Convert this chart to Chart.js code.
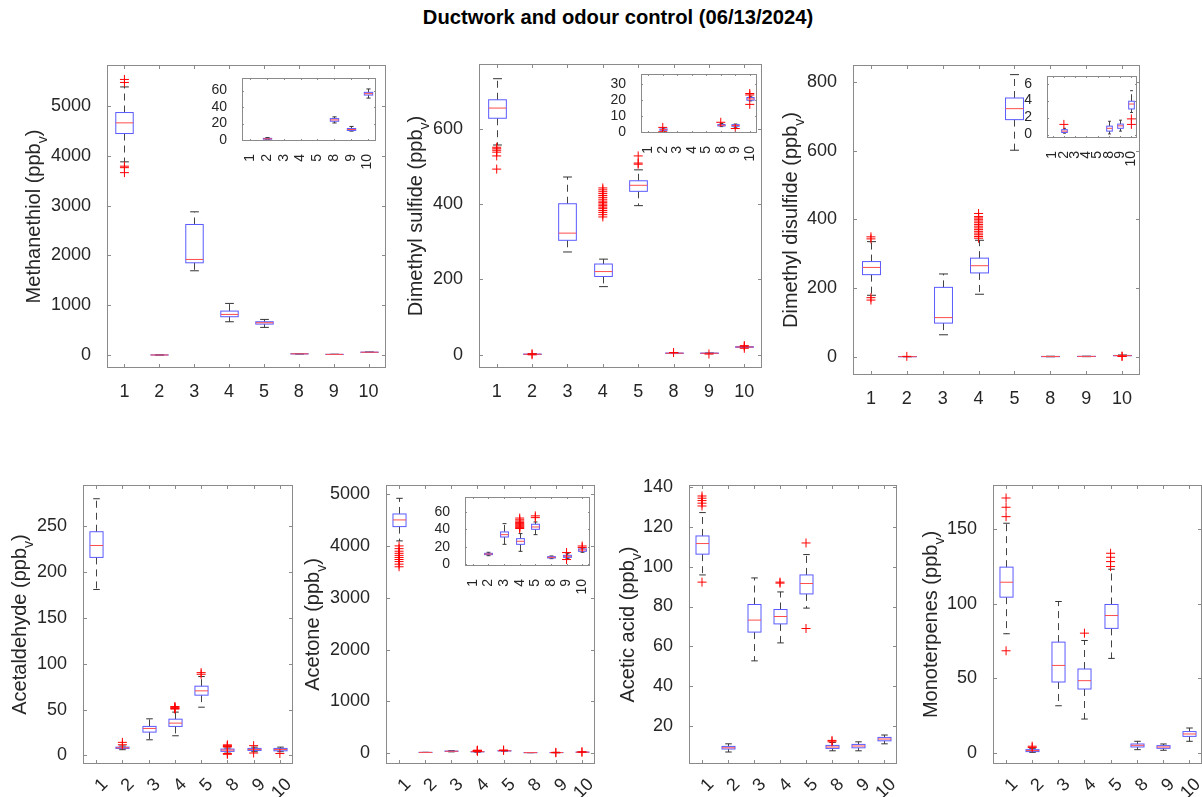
<!DOCTYPE html>
<html>
<head>
<meta charset="utf-8">
<script src="https://cdn.jsdelivr.net/npm/chart.js@4.4.1/dist/chart.umd.min.js"></script>
<style>
  html, body { margin: 0; padding: 0; background: #fff; }
  #page { position: relative; width: 1202px; height: 797px; overflow: hidden; background: #fff; }
  #title { position: absolute; top: 6px; left: 618px; transform: translateX(-50%); white-space: nowrap;
           font: bold 20.2px 'Liberation Sans', Arial, sans-serif; color: #000; }
</style>
</head>
<body>
<div id="page"><div id="title">Ductwork and odour control (06/13/2024)</div></div>
<script>
// categories (sampling points)
const cats = ['1', '2', '3', '4', '5', '8', '9', '10'];

// Methanethiol
const mtLow  = [3877, 0.5, 1691, 668, 555, 20.7, 10.8, 50.9];
const mtQ1   = [4445, 1.0, 1851, 769, 621, 22.8, 11.6, 54.6];
const mtMed  = [4659, 1.5, 1918, 815, 648, 24.4, 12.8, 56.3];
const mtQ3   = [4866, 2.0, 2620, 882, 668, 26.0, 14.0, 57.9];
const mtHigh = [5380, 3.0, 2874, 1036, 715, 28.1, 16.5, 62.0];
const mtOut  = [[5530, 5470, 3790, 3760, 3660], [], [], [], [], [], [], []];
const mtTicks = [0, 1000, 2000, 3000, 4000, 5000];
const mtInsetTicks = [0, 20, 40, 60];

// Dimethyl sulfide
const dmsLow  = [557, 0.5, 273, 181, 396, 3.4, 3.0, 19.5];
const dmsQ1   = [628, 1.1, 304, 208, 434, 3.8, 3.6, 19.9];
const dmsMed  = [655, 1.5, 323, 221, 450, 4.2, 4.1, 20.7];
const dmsQ3   = [677, 1.9, 401, 241, 462, 4.7, 4.6, 21.6];
const dmsHigh = [733, 2.5, 472, 254, 491, 5.3, 5.0, 22.4];
const dmsOut  = [[551, 547, 543, 538, 528, 493], [2.9, 0.2], [],
  [443, 438, 433, 428, 423, 418, 413, 408, 404, 400, 396, 392, 388, 383, 378, 372, 366],
  [528, 509, 506], [6.1], [2.2], [24.1, 23.2, 17.3]];
const dmsTicks = [0, 200, 400, 600];
const dmsInsetTicks = [0, 10, 20, 30];

// Dimethyl disulfide
const dmdsLow  = [179, 0.17, 64, 182, 601, 0.08, 0.41, 2.6];
const dmdsQ1   = [239, 0.25, 98, 244, 690, 0.41, 0.74, 3.02];
const dmdsMed  = [260, 0.41, 114, 265, 722, 0.74, 1.03, 3.6];
const dmdsQ3   = [277, 0.58, 202, 287, 753, 1.0, 1.24, 3.93];
const dmdsHigh = [335, 0.74, 241, 339, 821, 1.57, 1.7, 5.17];
const dmdsOut  = [[349, 343, 172, 165], [1.2], [],
  [345, 350, 355, 360, 365, 370, 375, 380, 385, 390, 395, 400, 404, 408, 417],
  [], [], [], [1.85, 1.2]];
const dmdsTicks = [0, 200, 400, 600, 800];
const dmdsInsetTicks = [0, 2, 4, 6];

// Acetaldehyde
const acdLow  = [181, 6.2, 17, 21.4, 52.6, 2.5, 4, 4];
const acdQ1   = [216, 7.6, 25.4, 31.6, 65.7, 4.4, 5.4, 5];
const acdMed  = [229, 8.3, 29.4, 35.2, 70.4, 5.8, 6.5, 6.5];
const acdQ3   = [244, 9.0, 31.6, 39.5, 75.5, 6.9, 7.6, 7.6];
const acdHigh = [280, 10.2, 39.9, 47.2, 86, 8, 9, 9];
const acdOut  = [[], [14.2, 11.6], [], [53.3, 52.6, 51.9, 51.2, 50.5], [90.3, 88.5],
  [9.2, 9.8, 10.6, 11.5, 2, 1.2], [10.6, 2.6], [2]];
const acdTicks = [0, 50, 100, 150, 200, 250];

// Acetone
const actLow  = [4100, 9.9, 22.9, 14.9, 34, 6.5, 6.5, 13.8];
const actQ1   = [4376, 11.1, 31.3, 22.9, 40.1, 7.3, 8, 14.9];
const actMed  = [4505, 11.8, 34, 26.4, 42.8, 8, 9.2, 16.4];
const actQ3   = [4620, 12.6, 37.1, 29.4, 45.9, 8.8, 10.3, 17.6];
const actHigh = [4923, 13.8, 46.6, 35.2, 48.5, 9.6, 12.2, 18.7];
const actOut  = [[4003, 3950, 3900, 3860, 3820, 3780, 3740, 3700, 3650, 3600], [], [],
  [53, 51, 49.5, 48, 47, 46, 45, 44, 43, 42, 41], [55.5, 53.5], [], [13.5, 5.5], [21, 19.2]];
const actTicks = [0, 1000, 2000, 3000, 4000, 5000];
const actInsetTicks = [0, 20, 40, 60];

// Acetic acid
const aaLow  = [95.8, 7.2, 52.8, 61.8, 79.2, 7.8, 7.8, 11.3];
const aaQ1   = [106.2, 8.7, 67.2, 71.3, 86.3, 9, 9.3, 12.8];
const aaMed  = [111.5, 9.3, 73.2, 75, 91.5, 9.7, 10.2, 13.7];
const aaQ3   = [115.3, 10, 81, 78.5, 95.8, 10.5, 11, 14.5];
const aaHigh = [127, 11.3, 94.3, 87.3, 106, 12, 12.3, 15.7];
const aaOut  = [[135.3, 134.2, 133, 131.7, 130.3, 92.2], [], [], [92.2, 91.7], [111.8, 69], [13, 12.3], [], []];
const aaTicks = [20, 40, 60, 80, 100, 120, 140];

// Monoterpenes
const mnLow  = [79.8, 0.4, 31.6, 22.7, 63.3, 2.2, 1.8, 7.8];
const mnQ1   = [104.3, 0.9, 47.5, 42.8, 83.4, 4, 3.1, 11.1];
const mnMed  = [114.3, 1.6, 58.6, 48.4, 92, 5.1, 4, 12.7];
const mnQ3   = [124.4, 2.2, 74.2, 56.2, 99.4, 6, 4.9, 14.3];
const mnHigh = [153.8, 3.1, 101.4, 75.3, 123, 7.8, 6, 16.7];
const mnOut  = [[170.7, 164.5, 158.2, 68.4], [4.5, 3.6], [], [80.2], [133.7, 131, 128.1, 124.8], [], [], []];
const mnTicks = [0, 50, 100, 150];

const FAMILY = "'Liberation Sans', Arial, sans-serif";
const page = document.getElementById('page');

function boxChart(p) {
  const [L, T, R, B] = p.rect;
  const padL = 100, padT = 20, padR = 20, axH = 60;
  const w = R - L + padL + padR, h = B - T + padT + axH;
  const cv = document.createElement('canvas');
  cv.width = w; cv.height = h;
  Object.assign(cv.style, { position: 'absolute', left: (L - padL) + 'px', top: (T - padT) + 'px', width: w + 'px', height: h + 'px' });
  page.appendChild(cv);

  const fs = p.inset ? 14 : 18;
  const pts = [];
  p.out.forEach((vals, i) => vals.forEach(v => pts.push({ x: i + 1, y: v })));

  const boxes = {
    id: 'boxes',
    beforeDraw(chart) {
      if (!p.inset) return;
      const { ctx, chartArea: a } = chart;
      ctx.save(); ctx.fillStyle = '#fff';
      ctx.fillRect(a.left, a.top, a.width, a.height);
      ctx.restore();
    },
    beforeDatasetsDraw(chart) {
      const { ctx, chartArea: a, scales: { x, y } } = chart;
      const step = x.getPixelForValue(2) - x.getPixelForValue(1);
      const bw = step * 0.5, cw = step * 0.25;
      ctx.save();
      ctx.beginPath(); ctx.rect(a.left, a.top, a.width, a.height); ctx.clip();
      ctx.lineWidth = 1;
      p.low.forEach((lo, i) => {
        const cx = Math.round(x.getPixelForValue(i + 1)) + 0.5;
        const yLo = y.getPixelForValue(lo), y1 = y.getPixelForValue(p.q1[i]);
        const yM = y.getPixelForValue(p.med[i]), y3 = y.getPixelForValue(p.q3[i]);
        const yHi = y.getPixelForValue(p.high[i]);
        // whiskers
        ctx.strokeStyle = '#444';
        ctx.setLineDash([7, 5]);
        ctx.beginPath();
        ctx.moveTo(cx, y3); ctx.lineTo(cx, yHi);
        ctx.moveTo(cx, y1); ctx.lineTo(cx, yLo);
        ctx.stroke();
        ctx.setLineDash([]);
        ctx.strokeStyle = '#333';
        ctx.beginPath();
        ctx.moveTo(cx - cw / 2, yHi); ctx.lineTo(cx + cw / 2, yHi);
        ctx.moveTo(cx - cw / 2, yLo); ctx.lineTo(cx + cw / 2, yLo);
        ctx.stroke();
        // box
        ctx.strokeStyle = '#5a5aff';
        ctx.strokeRect(cx - bw / 2, y3, bw, y1 - y3);
        // median
        ctx.strokeStyle = '#ff4d4d';
        ctx.beginPath(); ctx.moveTo(cx - bw / 2, yM); ctx.lineTo(cx + bw / 2, yM); ctx.stroke();
      });
      ctx.restore();
    },
    afterDraw(chart) {
      const { ctx, chartArea: a, scales: { x, y } } = chart;
      const tl = p.inset ? 2 : 4;
      ctx.save();
      ctx.strokeStyle = '#8a8a8a'; ctx.lineWidth = 1;
      ctx.strokeRect(a.left + 0.5, a.top + 0.5, a.width - 1, a.height - 1);
      ctx.beginPath();
      x.ticks.forEach(t => {
        const px = Math.round(x.getPixelForValue(t.value)) + 0.5;
        ctx.moveTo(px, a.bottom); ctx.lineTo(px, a.bottom - tl);
        ctx.moveTo(px, a.top); ctx.lineTo(px, a.top + tl);
      });
      y.ticks.forEach(t => {
        const py = Math.round(y.getPixelForValue(t.value)) + 0.5;
        ctx.moveTo(a.left, py); ctx.lineTo(a.left + tl, py);
        ctx.moveTo(a.right, py); ctx.lineTo(a.right - tl, py);
      });
      ctx.stroke();
      if (p.title) {
        // y label with subscript v
        ctx.translate(a.left - p.titleOffset, (a.top + a.bottom) / 2);
        ctx.rotate(-Math.PI / 2);
        ctx.fillStyle = '#262626'; ctx.textAlign = 'left'; ctx.textBaseline = 'alphabetic';
        const big = `20px ${FAMILY}`, small = `14px ${FAMILY}`;
        ctx.font = big;
        const w1 = ctx.measureText(p.title).width, w3 = ctx.measureText(')').width;
        ctx.font = small;
        const w2 = ctx.measureText('v').width;
        const sx = -(w1 + w2 + w3) / 2;
        ctx.font = big; ctx.fillText(p.title, sx, 7);
        ctx.font = small; ctx.fillText('v', sx + w1, 14);
        ctx.font = big; ctx.fillText(')', sx + w1 + w2, 7);
      }
      ctx.restore();
    }
  };

  const zeroPad = s => { s.paddingLeft = s.paddingRight = s.paddingTop = s.paddingBottom = 0; };
  const rot = p.rot || 0;
  return new Chart(cv, {
    type: 'scatter',
    data: {
      datasets: [{
        data: pts,
        pointStyle: 'cross',
        pointRadius: 4.5,
        borderColor: '#ff0000',
        backgroundColor: '#ff0000',
        borderWidth: 1,
        clip: 0
      }]
    },
    options: {
      responsive: false,
      animation: false,
      events: [],
      devicePixelRatio: 1,
      layout: { padding: { left: 0, top: padT, right: padR, bottom: 0 } },
      plugins: { legend: { display: false }, tooltip: { enabled: false } },
      scales: {
        x: {
          type: 'linear', min: 0.5, max: cats.length + 0.5,
          afterBuildTicks: s => { s.ticks = cats.map((c, i) => ({ value: i + 1 })); },
          afterFit: s => { s.height = axH; zeroPad(s); },
          grid: { display: false }, border: { display: false },
          ticks: {
            autoSkip: false, minRotation: rot, maxRotation: rot,
            padding: p.inset ? 5 : (rot ? 2 : 5),
            labelOffset: rot === 45 ? 9 : 0,
            color: '#262626', font: { family: FAMILY, size: fs },
            callback: v => cats[Math.round(v) - 1]
          }
        },
        y: {
          type: 'linear', min: p.yMin, max: p.yMax,
          afterBuildTicks: s => { s.ticks = p.yTicks.map(v => ({ value: v })); },
          afterFit: s => { s.width = padL; zeroPad(s); },
          grid: { display: false }, border: { display: false },
          ticks: {
            autoSkip: false,
            padding: p.inset ? 7 : 8,
            color: '#262626', font: { family: FAMILY, size: fs },
            callback: v => String(v)
          }
        }
      }
    },
    plugins: [boxes]
  });
}

const mt = { low: mtLow, q1: mtQ1, med: mtMed, q3: mtQ3, high: mtHigh, out: mtOut };
const dms = { low: dmsLow, q1: dmsQ1, med: dmsMed, q3: dmsQ3, high: dmsHigh, out: dmsOut };
const dmds = { low: dmdsLow, q1: dmdsQ1, med: dmdsMed, q3: dmdsQ3, high: dmdsHigh, out: dmdsOut };
const acd = { low: acdLow, q1: acdQ1, med: acdMed, q3: acdQ3, high: acdHigh, out: acdOut };
const act = { low: actLow, q1: actQ1, med: actMed, q3: actQ3, high: actHigh, out: actOut };
const aa = { low: aaLow, q1: aaQ1, med: aaMed, q3: aaQ3, high: aaHigh, out: aaOut };
const mn = { low: mnLow, q1: mnQ1, med: mnMed, q3: mnQ3, high: mnHigh, out: mnOut };

// top row
boxChart({ ...mt, rect: [107, 65, 386, 368], yMin: -260, yMax: 5820, yTicks: mtTicks, title: 'Methanethiol (ppb', titleOffset: 74 });
boxChart({ ...dms, rect: [479, 64, 762, 368], yMin: -35, yMax: 772, yTicks: dmsTicks, title: 'Dimethyl sulfide (ppb', titleOffset: 64 });
boxChart({ ...dmds, rect: [853, 65, 1140, 375], yMin: -53, yMax: 849, yTicks: dmdsTicks, title: 'Dimethyl disulfide (ppb', titleOffset: 63 });
// bottom row
boxChart({ ...acd, rect: [83, 485, 293, 764], yMin: -9.4, yMax: 295, yTicks: acdTicks, title: 'Acetaldehyde (ppb', titleOffset: 64, rot: 45 });
boxChart({ ...act, rect: [386, 485, 595, 764], yMin: -212, yMax: 5180, yTicks: actTicks, title: 'Acetone (ppb', titleOffset: 74, rot: 45 });
boxChart({ ...aa, rect: [689, 485, 897, 764], yMin: 1.2, yMax: 140.8, yTicks: aaTicks, title: 'Acetic acid (ppb', titleOffset: 62, rot: 45 });
boxChart({ ...mn, rect: [993, 485, 1202, 764], yMin: -7.4, yMax: 179.4, yTicks: mnTicks, title: 'Monoterpenes (ppb', titleOffset: 63, rot: 45 });
// insets
boxChart({ ...mt, rect: [242, 78, 376, 141], yMin: -1.2, yMax: 75.3, yTicks: mtInsetTicks, inset: true, rot: 90 });
boxChart({ ...dms, rect: [641, 74, 757, 133], yMin: -0.6, yMax: 36.3, yTicks: dmsInsetTicks, inset: true, rot: 90 });
boxChart({ ...dmds, rect: [1047, 76, 1137, 138], yMin: -0.4, yMax: 6.9, yTicks: dmdsInsetTicks, inset: true, rot: 90 });
boxChart({ ...act, rect: [465, 497, 590, 566], yMin: -1.9, yMax: 77.1, yTicks: actInsetTicks, inset: true, rot: 90 });
</script>
</body>
</html>
